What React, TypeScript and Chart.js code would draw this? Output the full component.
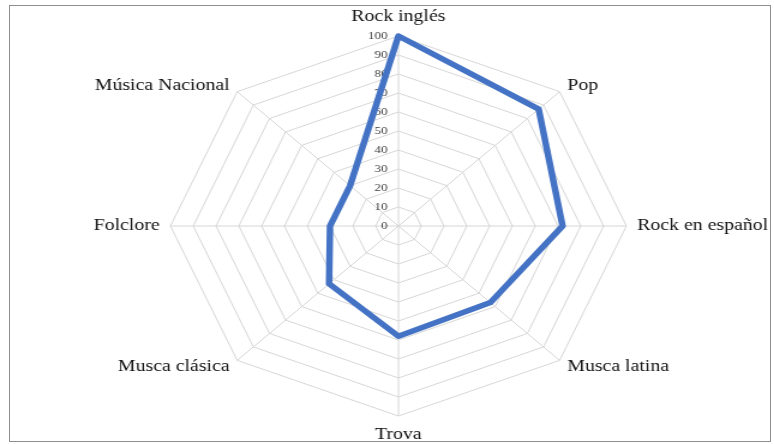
import React, { useEffect, useRef } from 'react';
import { Chart, registerables, RadialLinearScale } from 'chart.js';

// ---- data ----
const categories = [
  'Rock inglés',
  'Pop',
  'Rock en español',
  'Musca latina',
  'Trova',
  'Musca clásica',
  'Folclore',
  'Música Nacional',
];
const values = [100, 87, 72, 57, 58, 43, 30, 30];
const tickMin = 0;
const tickMax = 100;
const tickStep = 10;

// The reference is a horizontally stretched picture of a round radar.
const STRETCH = 1.2;
const W = 774 / STRETCH;
const H = 444;

class FramedRadialScale extends RadialLinearScale {
  static id = 'framedRadial';
  // keep the geometry given by the layout padding
  setCenterPoint() {}
  fit() {
    super.fit();
    const items = (this as any)._pointLabelItems;
    if (!items) return;
    const n = items.length;
    items.forEach((it: any, i: number) => {
      const deg = (360 / n) * i;
      if (deg % 90 === 0) return;
      const h = it.bottom - it.top;
      const dy = deg < 90 || deg > 270 ? h / 2 : -h / 2;
      it.y += dy;
      it.top += dy;
      it.bottom += dy;
    });
  }
  drawLabels() {
    const ctx = this.ctx;
    const t: any = this.options.ticks;
    const f = t.font || {};
    ctx.save();
    ctx.font = `${f.size || 10}px "${f.family || 'Liberation Serif'}"`;
    ctx.fillStyle = t.color;
    ctx.textAlign = 'right';
    ctx.textBaseline = 'middle';
    this.ticks.forEach((tick: any) => {
      const d = this.getDistanceFromCenterForValue(tick.value);
      ctx.fillText(String(tick.value), this.xCenter - 9, this.yCenter - d);
    });
    ctx.restore();
  }
}

Chart.register(...registerables, FramedRadialScale);

export default function App() {
  const ref = useRef<HTMLCanvasElement | null>(null);

  useEffect(() => {
    if (!ref.current) return;
    const chart = new Chart(ref.current, {
      type: 'radar',
      data: {
        labels: categories,
        datasets: [
          {
            data: values,
            borderColor: '#4472C4',
            backgroundColor: 'rgba(0,0,0,0)',
            borderWidth: 5.5,
            borderJoinStyle: 'round',
            borderCapStyle: 'round',
            pointRadius: 0,
            pointHoverRadius: 0,
            fill: false,
            tension: 0,
          },
        ],
      },
      options: {
        responsive: false,
        animation: false,
        layout: { padding: { left: 32, right: 13, top: 36, bottom: 28 } },
        plugins: {
          legend: { display: false },
          title: { display: false },
          tooltip: { enabled: false },
        },
        scales: {
          r: {
            type: 'framedRadial' as any,
            min: tickMin,
            max: tickMax,
            beginAtZero: true,
            ticks: {
              display: false,
              stepSize: tickStep,
              color: '#404040',
              font: { family: 'Liberation Serif', size: 11 },
            },
            grid: { color: '#d6d6d6', lineWidth: 1 },
            angleLines: { color: '#d6d6d6', lineWidth: 1 },
            pointLabels: {
              color: '#111111',
              padding: 9,
              font: { family: 'Liberation Serif', size: 16.5 },
            },
          } as any,
        },
      },
    });
    return () => chart.destroy();
  }, []);

  return (
    <div
      style={{
        position: 'fixed',
        left: 0,
        top: 0,
        width: 774,
        height: 444,
        background: '#ffffff',
        overflow: 'hidden',
      }}
    >
      <div
        style={{
          position: 'absolute',
          left: 9,
          top: 5,
          width: 762,
          height: 437,
          border: '1px solid #8e8e8e',
          boxSizing: 'border-box',
        }}
      />
      <div
        style={{
          position: 'absolute',
          left: 0,
          top: 0,
          width: W,
          height: H,
          transform: `scaleX(${STRETCH})`,
          transformOrigin: '0 0',
        }}
      >
        <canvas ref={ref} width={W} height={H} style={{ display: 'block', width: W, height: H }} />
      </div>
    </div>
  );
}
